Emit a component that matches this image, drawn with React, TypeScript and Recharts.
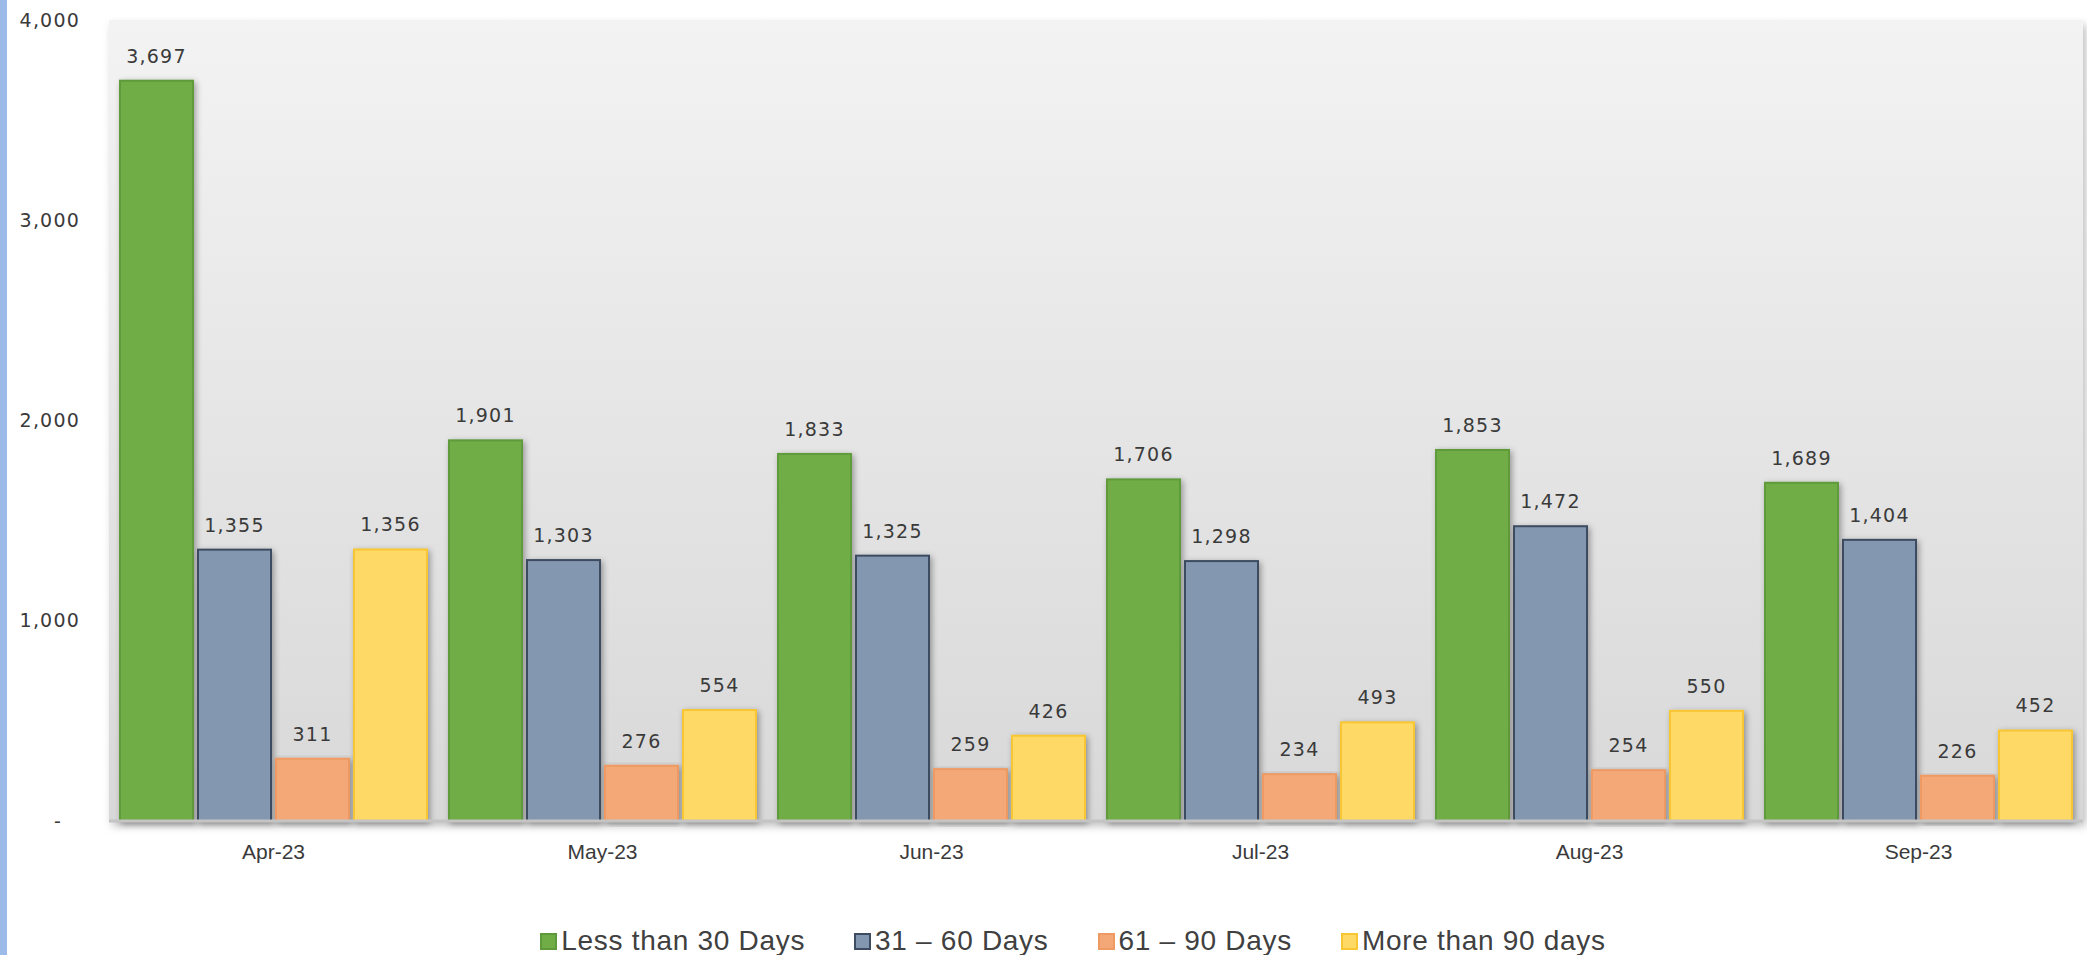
import { BarChart, Bar, XAxis, YAxis, CartesianGrid, LabelList } from "recharts";

const months = ["Apr-23", "May-23", "Jun-23", "Jul-23", "Aug-23", "Sep-23"];
const lessThan30 = [3697, 1901, 1833, 1706, 1853, 1689];
const days31to60 = [1355, 1303, 1325, 1298, 1472, 1404];
const days61to90 = [311, 276, 259, 234, 254, 226];
const moreThan90 = [1356, 554, 426, 493, 550, 452];
const yTicks = [0, 1000, 2000, 3000, 4000];

const series = [
  { key: "lessThan30", label: "Less than 30 Days", fill: "#70ad47", stroke: "#5e9a3b" },
  { key: "days31to60", label: "31 – 60 Days", fill: "#8497b0", stroke: "#3e4c61" },
  { key: "days61to90", label: "61 – 90 Days", fill: "#f4a878", stroke: "#ee9a62" },
  { key: "moreThan90", label: "More than 90 days", fill: "#ffd966", stroke: "#f7c632" },
];

const data = months.map((month, i) => ({
  month,
  lessThan30: lessThan30[i],
  days31to60: days31to60[i],
  days61to90: days61to90[i],
  moreThan90: moreThan90[i],
}));

const fmt = (v: number) => (v === 0 ? "-" : v.toLocaleString("en-US"));

function YTick({ x, y, payload }: any) {
  const zero = payload.value === 0;
  return (
    <text
      x={x}
      y={y}
      dx={zero ? -18 : 0}
      dy="0.355em"
      textAnchor="end"
      fill="#3a3a3a"
      fontSize={19}
      letterSpacing={1.2}
      fontFamily="DejaVu Sans, Verdana, sans-serif"
    >
      {fmt(payload.value)}
    </text>
  );
}

function ShadowBar(props: any) {
  const { x, y, width, height, fill, stroke } = props;
  if (!height || height <= 0) return null;
  return (
    <rect
      x={x}
      y={y}
      width={width}
      height={height}
      fill={fill}
      stroke={stroke}
      strokeWidth={2}
      filter="url(#barShadow)"
    />
  );
}

export default function App() {
  return (
    <div
      style={{
        position: "absolute",
        left: 0,
        top: 0,
        width: 2087,
        height: 955,
        background: "#ffffff",
        overflow: "hidden",
      }}
    >
      <style>{`.recharts-cartesian-grid-bg { filter: url(#plotShadow); }`}</style>
      <svg width={0} height={0} style={{ position: "absolute" }}>
        <defs>
          <linearGradient id="plotBg" x1="0" y1="0" x2="0" y2="1">
            <stop offset="0%" stopColor="#f3f3f3" />
            <stop offset="100%" stopColor="#d8d8d8" />
          </linearGradient>
          <filter id="barShadow" x="-20%" y="-5%" width="150%" height="115%">
            <feDropShadow dx="2" dy="2" stdDeviation="3" floodColor="#000" floodOpacity="0.35" />
          </filter>
          <filter id="plotShadow" x="-5%" y="-5%" width="110%" height="110%">
            <feDropShadow dx="3" dy="5" stdDeviation="4" floodColor="#000" floodOpacity="0.25" />
          </filter>
        </defs>
      </svg>
      <div
        style={{
          position: "absolute",
          left: 0,
          top: 0,
          width: 7,
          height: 955,
          background: "#9dbbe8",
        }}
      />
      <BarChart
        width={2087}
        height={955}
        data={data}
        margin={{ top: 20, right: 4, bottom: 94, left: 8 }}
        barSize={73}
        barGap={5}
        barCategoryGap={11}
      >
        <CartesianGrid fill="url(#plotBg)" horizontal={false} vertical={false} />
        <XAxis
          dataKey="month"
          tickLine={false}
          axisLine={{ stroke: "#c4c4c4", strokeWidth: 3 }}
          tickMargin={17}
          height={40}
          tick={{ fill: "#3a3a3a", fontSize: 21, fontFamily: "Liberation Sans, Arial, sans-serif" }}
        />
        <YAxis
          domain={[0, 4000]}
          ticks={yTicks}
          axisLine={false}
          tickLine={false}
          tickMargin={23}
          width={101}
          tick={<YTick />}
        />
        {series.map((s) => (
          <Bar
            key={s.key}
            dataKey={s.key}
            name={s.label}
            fill={s.fill}
            stroke={s.stroke}
            shape={<ShadowBar />}
            isAnimationActive={false}
          >
            <LabelList
              dataKey={s.key}
              position="top"
              offset={18}
              formatter={(v: any) => fmt(Number(v))}
              fill="#3a3a3a"
              fontSize={19}
              letterSpacing={1.2}
              fontFamily="DejaVu Sans, Verdana, sans-serif"
            />
          </Bar>
        ))}
      </BarChart>
      <div
        style={{
          position: "absolute",
          left: 0,
          width: 2146,
          top: 925,
          display: "flex",
          justifyContent: "center",
          gap: 49,
          fontFamily: "Liberation Sans, Arial, sans-serif",
          fontSize: 28,
          letterSpacing: 0.7,
          color: "#404040",
          lineHeight: "32px",
        }}
      >
        {series.map((s) => (
          <div key={s.key} style={{ display: "flex", alignItems: "center", gap: 4 }}>
            <span
              style={{
                display: "inline-block",
                width: 17,
                height: 17,
                background: s.fill,
                border: `2px solid ${s.stroke}`,
                boxSizing: "border-box",
              }}
            />
            <span>{s.label}</span>
          </div>
        ))}
      </div>
    </div>
  );
}
